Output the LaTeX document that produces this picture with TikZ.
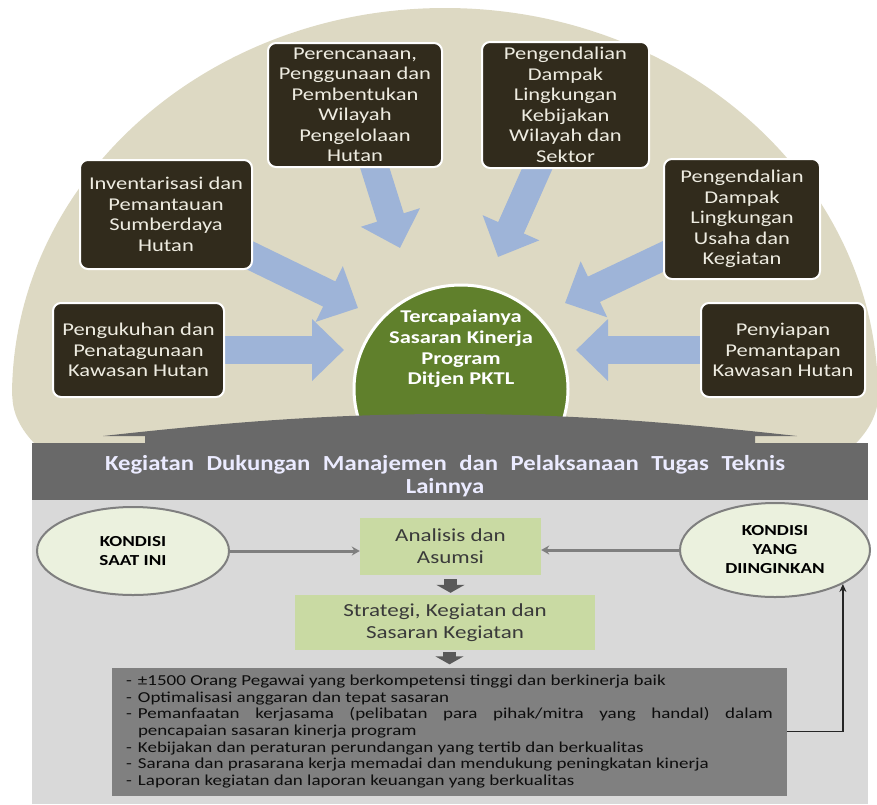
\documentclass[tikz,border=0pt]{standalone}
\usepackage{fontspec}
\setmainfont{Carlito}[FakeStretch=1.25]
\newfontfamily\headfont{Carlito}[FakeStretch=1.15]
\usepackage{xcolor}
\usetikzlibrary{shapes.geometric, arrows.meta, backgrounds, calc}

\definecolor{domebg}{HTML}{DDD9C3}
\definecolor{boxbrown}{HTML}{312B1C}
\definecolor{boxtext}{HTML}{EEECE1}
\definecolor{arrblue}{HTML}{9EB4D8}
\definecolor{goalgreen}{HTML}{60802C}
\definecolor{headgray}{HTML}{696969}
\definecolor{panelgray}{HTML}{D9D9D9}
\definecolor{condfill}{HTML}{EBF1DE}
\definecolor{stepgreen}{HTML}{C9DAA3}
\definecolor{stepink}{HTML}{3A3A3A}
\definecolor{linkgray}{HTML}{7F7F7F}
\definecolor{listgray}{HTML}{808080}

\newcommand{\lstitem}{\par\hangindent=12pt\hangafter=1\noindent\makebox[12pt][l]{-}}

\tikzset{
  topbox/.style={draw=white, line width=2pt, fill=boxbrown, rounded corners=8pt, text=boxtext,
    align=center, font=\fontsize{18}{20.5}\selectfont, inner sep=0pt},
  barrow/.style={draw=arrblue, line width=28pt, -{Triangle[length=32pt,width=60pt]}},
  goal/.style={ellipse, draw=white, line width=3pt, fill=goalgreen, minimum width=214pt, minimum height=208pt},
  goaltxt/.style={text=white, align=center, font=\fontsize{18}{20.7}\selectfont\bfseries},
  headtxt/.style={text=white!92!blue, align=center, font=\headfont\fontsize{21.5}{22.5}\selectfont\bfseries},
  cond/.style={ellipse, draw=linkgray, line width=2pt, fill=condfill, inner sep=0pt,
    align=center, font=\fontsize{15.3}{19}\selectfont\bfseries},
  stepbox/.style={fill=stepgreen, text=stepink, align=center, inner sep=0pt,
    font=\fontsize{18.4}{21.7}\selectfont},
  link/.style={draw=linkgray, line width=3pt, -{Stealth[length=8pt,width=9pt]}},
  darr/.style={draw=black!65, line width=13pt, -{Triangle[length=8pt,width=28pt]}},
  listbox/.style={fill=listgray, text=black!95, inner sep=0pt, minimum width=675pt, minimum height=128pt,
    font=\fontsize{15.2}{16.6}\selectfont},
  fb/.style={draw=black!85, line width=1.5pt, -{Stealth[length=8pt,width=7pt]}}
}

\begin{document}
\begin{tikzpicture}[x=1pt, y=-1pt]
  \useasboundingbox (0,0) rectangle (877,804);
  \begin{scope}[on background layer]
    \fill[domebg] (12,396) arc[start angle=180, end angle=360, x radius=433, y radius=388]
      arc[start angle=0, end angle=19, x radius=433, y radius=150]
      -- (36,445) arc[start angle=161, end angle=180, x radius=433, y radius=150] -- cycle;
  \end{scope}

  \node[topbox, minimum width=174pt, minimum height=124pt] (b1) at (355,105)
    {Perencanaan,\\Penggunaan dan\\Pembentukan\\Wilayah\\Pengelolaan\\Hutan};
  \node[topbox, minimum width=167pt, minimum height=126pt] (b2) at (565.5,105)
    {Pengendalian\\Dampak\\Lingkungan\\Kebijakan\\Wilayah dan\\Sektor};
  \node[topbox, minimum width=172pt, minimum height=109pt] (b3) at (166,214.5)
    {Inventarisasi dan\\Pemantauan\\Sumberdaya\\Hutan};
  \node[topbox, minimum width=171pt, minimum height=94pt] (b4) at (138.5,350)
    {Pengukuhan dan\\Penatagunaan\\Kawasan Hutan};
  \node[topbox, minimum width=156pt, minimum height=120pt] (b5) at (742,219)
    {Pengendalian\\Dampak\\Lingkungan\\Usaha dan\\Kegiatan};
  \node[topbox, minimum width=164pt, minimum height=94pt] (b6) at (783,350)
    {Penyiapan\\Pemantapan\\Kawasan Hutan};

  \node[goal] (goal) at (461,389) {};
  \node[goaltxt] (goaltxt) at (461,349) {Tercapaianya\\Sasaran Kinerja\\Program\\Ditjen PKTL};

  \coordinate (t1) at (400,248);
  \coordinate (t2) at (498,257);
  \coordinate (t3) at (358,308);
  \coordinate (t4) at (344,350);
  \coordinate (t5) at (565,303);
  \coordinate (t6) at (576,350);
  \begin{scope}[on background layer]
    \draw[barrow] (b1.center) -- (t1);
    \draw[barrow] (b2.center) -- (t2);
    \draw[barrow] (b3.center) -- (t3);
    \draw[barrow] (b4.center) -- (t4);
    \draw[barrow] (b5.center) -- (t5);
    \draw[barrow] (b6.center) -- (t6);
  \end{scope}

  \fill[headgray] (145,443) -- (145,436) -- (103,436) .. controls (230,422) and (330,414) .. (450,414)
    .. controls (570,414) and (670,422) .. (797,436) -- (755,436) -- (755,443) -- cycle;
  \fill[headgray] (32,443) rectangle (868,500);
  \fill[panelgray] (32,500) rectangle (868,804);
  \node[headtxt] (head) at (445,476)
    {\makebox[680pt][s]{Kegiatan Dukungan Manajemen dan Pelaksanaan Tugas Teknis}\\Lainnya};

  \node[cond, minimum width=192pt, minimum height=88pt] (kini) at (133,551) {KONDISI\\SAAT INI};
  \node[cond, minimum width=190pt, minimum height=94pt] (harap) at (775,550) {KONDISI\\YANG\\DIINGINKAN};
  \node[stepbox, minimum width=181pt, minimum height=57pt] (ana) at (450.5,546.5) {Analisis dan\\Asumsi};
  \node[stepbox, minimum width=300pt, minimum height=55pt] (str) at (445,622.5)
    {Strategi, Kegiatan dan\\Sasaran Kegiatan};
  \node[listbox] (list) at (449.5,731.5) {\begin{minipage}{647pt}
    \lstitem ±1500 Orang Pegawai yang berkompetensi tinggi dan berkinerja baik
    \lstitem Optimalisasi anggaran dan tepat sasaran
    \lstitem Pemanfaatan kerjasama (pelibatan para pihak/mitra yang handal) dalam\linebreak
      pencapaian sasaran kinerja program
    \lstitem Kebijakan dan peraturan perundangan yang tertib dan berkualitas
    \lstitem Sarana dan prasarana kerja memadai dan mendukung peningkatan kinerja
    \lstitem Laporan kegiatan dan laporan keuangan yang berkualitas
  \end{minipage}};

  \draw[link] (kini) -- (kini -| ana.west);
  \draw[link] (harap) -- (harap -| ana.east);
  \draw[darr, shorten <=4pt, shorten >=2pt] (ana.south) -- (ana.south |- str.north);
  \draw[darr, shorten <=2pt, shorten >=3pt] (list.north |- str.south) -- (list.north);
  \draw[fb] (list.east) -| (harap.south east);
\end{tikzpicture}
\end{document}
